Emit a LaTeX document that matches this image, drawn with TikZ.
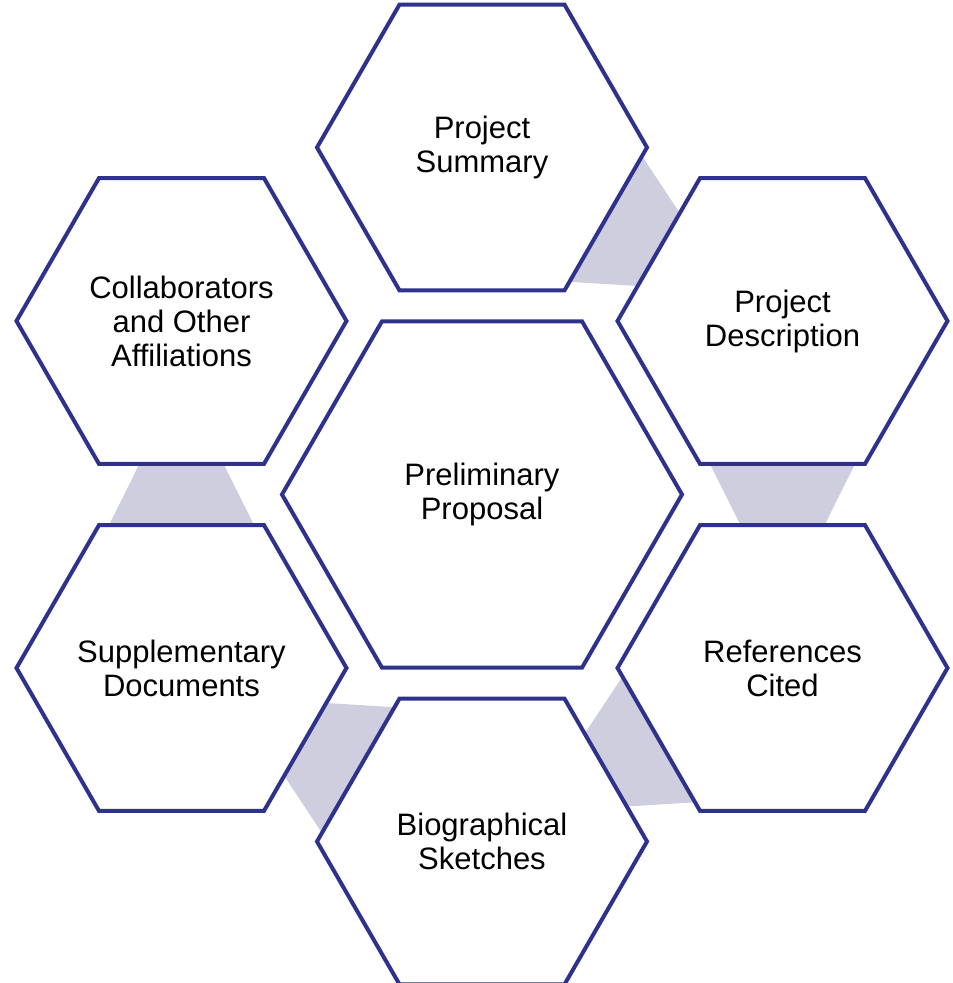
\documentclass[tikz,border=0pt]{standalone}
\usepackage{fontspec}
\setmainfont{Liberation Sans}
\usetikzlibrary{shapes.geometric}
\usetikzlibrary{calc}
\usetikzlibrary{backgrounds}
\definecolor{hexblue}{RGB}{47,50,140}
\definecolor{linkgray}{RGB}{206,206,222}

\begin{document}
\begin{tikzpicture}[x=1pt,y=1pt,
    hexa/.style={regular polygon, regular polygon sides=6, draw=hexblue, line width=4pt, fill=white, outer sep=0pt, minimum size=330pt},
    bighexa/.style={hexa, minimum size=400pt},
    txt/.style={align=center, font=\fontsize{31}{34}\selectfont}]
        \useasboundingbox (-482,-488.5) rectangle (471,494.5);
        \node [bighexa, label={[txt]center:Preliminary\\Proposal}] (pp) at (0,0) {};
        \node [hexa, label={[txt]center:Project\\Summary}] (ps) at (90:347) {};
        \node [hexa, label={[txt]center:Project\\Description}] (pd) at (30:347) {};
        \node [hexa, label={[txt]center:References\\Cited}] (rc) at (-30:347) {};
        \node [hexa, label={[txt]center:Biographical\\Sketches}] (bs) at (-90:347) {};
        \node [hexa, label={[txt]center:Supplementary\\Documents}] (sd) at (-150:347) {};
        \node [hexa, label={[txt]center:Collaborators\\and Other\\Affiliations}] (co) at (150:347) {};
        \begin{pgfonlayer}{background}
        \foreach \a/\from/\to [evaluate=\a as \p using int(\a-120), evaluate=\a as \q using int(\a-60), evaluate=\a as \r using int(\a+120), evaluate=\a as \s using int(\a+60)] in {60/ps/pd, 0/pd/rc, -60/rc/bs, -120/bs/sd, 180/sd/co}
            \fill [linkgray] ($(\from.\p)!0.06!(\from.\q)$) -- ($(\from.\p)!0.94!(\from.\q)$) -- ($(\to.\r)!0.755!(\to.\s)$) -- ($(\to.\r)!0.245!(\to.\s)$) -- cycle;
        \end{pgfonlayer}
\end{tikzpicture}
\end{document}
